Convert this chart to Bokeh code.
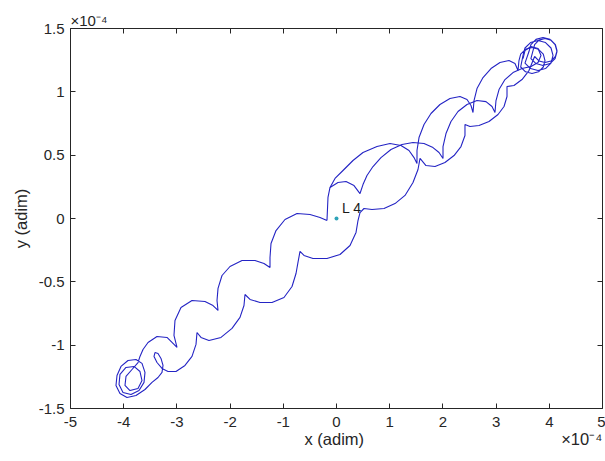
from bokeh.plotting import figure
from bokeh.models import LinearAxis, FixedTicker, Label, Range1d
from bokeh.embed import file_html
from bokeh.resources import INLINE

# values in units of 1e-4 (as read on the axes)
x_ticks = [-5, -4, -3, -2, -1, 0, 1, 2, 3, 4, 5]
x_tick_labels = ["-5", "-4", "-3", "-2", "-1", "0", "1", "2", "3", "4", "5"]
y_ticks = [-1.5, -1, -0.5, 0, 0.5, 1, 1.5]
y_tick_labels = ["-1.5", "-1", "-0.5", "0", "0.5", "1", "1.5"]

# upper half, first outgoing strand (from the cusp next to L4, along the upper-left side)
e_x = [-0.179, -0.169, -0.160, -0.122, -0.028, 0.122, 0.310, 0.498, 0.761, 1.006, 1.212, 1.363, 1.457, 1.513,
       1.513, 1.551, 1.645, 1.776, 1.945, 2.133, 2.321, 2.453, 2.528, 2.566,
       2.585, 2.641, 2.754, 2.904, 3.073, 3.242, 3.355, 3.412]
e_y = [-0.016, 0.079, 0.166, 0.245, 0.316, 0.379, 0.458, 0.521, 0.568, 0.592, 0.576, 0.537, 0.481, 0.434,
       0.537, 0.639, 0.742, 0.829, 0.900, 0.947, 0.963, 0.939, 0.892, 0.837,
       0.931, 1.026, 1.113, 1.184, 1.231, 1.247, 1.223, 1.168]

# loops at the upper-right end
ur_x = [3.430, 3.462, 3.553, 3.675, 3.797, 3.887, 3.919, 3.887, 3.797, 3.675, 3.553, 3.462,
        3.506, 3.543, 3.647, 3.788, 3.929, 4.032, 4.070, 4.032, 3.929, 3.788, 3.647, 3.543,
        3.618, 3.654, 3.750, 3.882, 4.013, 4.109, 4.145, 4.109, 4.013, 3.882, 3.750, 3.654,
        3.694, 3.724, 3.806, 3.919, 4.032, 4.115, 4.145, 4.115, 4.032, 3.919, 3.806, 3.724]
ur_y = [1.247, 1.298, 1.336, 1.350, 1.336, 1.298, 1.247, 1.196, 1.158, 1.144, 1.158, 1.196,
        1.287, 1.346, 1.389, 1.405, 1.389, 1.346, 1.287, 1.227, 1.184, 1.168, 1.184, 1.227,
        1.318, 1.373, 1.414, 1.429, 1.414, 1.373, 1.318, 1.263, 1.223, 1.208, 1.223, 1.263,
        1.326, 1.373, 1.408, 1.421, 1.408, 1.373, 1.326, 1.279, 1.244, 1.231, 1.244, 1.279]

# upper half, returning strand along the lower-right side, down past L4
r_up_x = [3.618, 3.487, 3.336, 3.205,
          3.205, 3.149, 3.036, 2.867, 2.679, 2.509, 2.415,
          2.415, 2.340, 2.209, 2.039, 1.852, 1.682, 1.570,
          1.532, 1.438, 1.288, 1.100, 0.893, 0.667, 0.517, 0.442,
          0.404, 0.367, 0.254, 0.066, -0.179, -0.442, -0.611, -0.686]
r_up_y = [1.168, 1.097, 1.050, 1.042,
          0.963, 0.884, 0.821, 0.766, 0.734, 0.726, 0.742,
          0.655, 0.568, 0.497, 0.442, 0.410, 0.418, 0.474,
          0.387, 0.284, 0.182, 0.118, 0.079, 0.071, 0.079, 0.047,
          -0.016, -0.110, -0.213, -0.284, -0.316, -0.316, -0.292, -0.260]

# lower half, lower-right strand
r_low_x = [-0.724, -0.761, -0.836, -0.987, -1.212, -1.438, -1.626, -1.720,
           -1.739, -1.814, -1.964, -2.171, -2.397, -2.547, -2.622]
r_low_y = [-0.347, -0.434, -0.537, -0.624, -0.663, -0.663, -0.639, -0.600,
           -0.687, -0.781, -0.868, -0.939, -0.963, -0.939, -0.900]

# loops at the lower-left end
ll_x = [-2.641, -2.716, -2.848, -3.017, -3.167, -3.280, -3.374, -3.430, -3.412, -3.355, -3.299, -3.261, -3.280, -3.355, -3.468,
        -3.600, -3.769, -3.938, -4.070, -4.145, -4.126, -4.051, -3.919, -3.769, -3.656, -3.600,
        -3.618, -3.712, -3.863, -4.013, -4.088, -4.070, -3.957, -3.806,
        -3.694, -3.656, -3.731, -3.882, -3.976, -3.957, -3.844, -3.731,
        -3.694, -3.637, -3.543, -3.374, -3.186, -2.998]
ll_y = [-0.994, -1.089, -1.160, -1.208, -1.208, -1.184, -1.137, -1.089, -1.058, -1.066, -1.105, -1.160, -1.215, -1.255, -1.294,
        -1.350, -1.397, -1.413, -1.381, -1.318, -1.239, -1.168, -1.121, -1.113, -1.144, -1.215,
        -1.294, -1.358, -1.389, -1.373, -1.310, -1.231, -1.176, -1.168,
        -1.208, -1.279, -1.342, -1.358, -1.318, -1.247, -1.192, -1.137,
        -1.089, -1.034, -0.979, -0.931, -0.939, -1.018]

# lower half, upper-left strand, back to the cusp next to L4
l_low_x = [-3.055, -3.036, -2.923, -2.716, -2.472, -2.321, -2.227,
           -2.246, -2.227, -2.152, -2.002, -1.776, -1.532, -1.363, -1.250,
           -1.250, -1.231, -1.137, -0.968, -0.742, -0.498, -0.310, -0.179]
l_low_y = [-0.923, -0.805, -0.702, -0.647, -0.655, -0.687, -0.726,
           -0.647, -0.552, -0.450, -0.379, -0.331, -0.331, -0.355, -0.387,
           -0.308, -0.197, -0.095, -0.008, 0.039, 0.032, 0.008, -0.016]

# upper half, second outgoing strand (starts just above L4, braided with the first)
f_x = [-0.122, 0.028, 0.179, 0.329, 0.442,
       0.498, 0.573, 0.686, 0.836, 1.024, 1.231, 1.438, 1.645, 1.814, 1.927, 2.002,
       2.002, 2.058, 2.152, 2.284, 2.453, 2.641, 2.810, 2.923, 2.979,
       2.998, 3.055, 3.167, 3.318, 3.487, 3.656, 3.788, 3.844, 3.788, 3.656, 3.543, 3.506]
f_y = [0.245, 0.284, 0.292, 0.260, 0.197,
       0.268, 0.339, 0.410, 0.481, 0.545, 0.584, 0.600, 0.592, 0.560, 0.521, 0.474,
       0.568, 0.671, 0.766, 0.845, 0.900, 0.931, 0.923, 0.884, 0.837,
       0.931, 1.018, 1.097, 1.152, 1.184, 1.200, 1.231, 1.287, 1.342, 1.358, 1.326, 1.263]

l4_x = [0.0]
l4_y = [0.0]

path_x = e_x + ur_x + r_up_x + r_low_x + ll_x + l_low_x
path_y = e_y + ur_y + r_up_y + r_low_y + ll_y + l_low_y

FONT = "Liberation Sans"
AX = "#262626"
NB = "\u00a0"

p = figure(width=605, height=461, x_range=Range1d(-5, 5), y_range=Range1d(-1.5, 1.5),
           output_backend="svg", toolbar_location=None,
           min_border_left=70, min_border_right=3, min_border_top=28, min_border_bottom=53)
p.outline_line_color = None
p.xgrid.visible = False
p.ygrid.visible = False
p.background_fill_color = "white"
p.border_fill_color = "white"

def style_axis(ax, ticks, labels, show):
    ax.ticker = FixedTicker(ticks=ticks)
    ax.major_label_overrides = {t: (l if show else "") for t, l in zip(ticks, labels)}
    ax.axis_line_color = AX
    ax.axis_line_width = 1
    ax.major_tick_line_color = AX
    ax.major_tick_in = 5
    ax.major_tick_out = 0
    ax.minor_tick_in = 0
    ax.minor_tick_out = 0
    ax.major_label_text_font = FONT
    ax.major_label_text_color = AX
    ax.major_label_text_font_size = "15px" if show else "1px"
    if not show:
        ax.major_label_standoff = 0

style_axis(p.xaxis[0], x_ticks, x_tick_labels, True)
style_axis(p.yaxis[0], y_ticks, y_tick_labels, True)
p.xaxis.major_label_standoff = 8
p.yaxis.major_label_standoff = 6
# x label centred under the axis, with the x10^-4 factor at the right end of the same row
p.xaxis.axis_label = NB * 51 + "x (adim)" + NB * 43 + "\u00d710\u207b\u2074"
p.yaxis.axis_label = "y (adim)"
for ax in (p.xaxis[0], p.yaxis[0]):
    ax.axis_label_text_font = FONT
    ax.axis_label_text_font_style = "normal"
    ax.axis_label_text_font_size = "16.5px"
    ax.axis_label_text_color = AX
p.xaxis.axis_label_standoff = 0
p.yaxis.axis_label_standoff = 6

top = LinearAxis()
style_axis(top, x_ticks, x_tick_labels, False)
p.add_layout(top, "above")
right = LinearAxis()
style_axis(right, y_ticks, y_tick_labels, False)
p.add_layout(right, "right")

# x10^-4 factor of the y axis, top-left
p.title.text = "\u00d710\u207b\u2074"
p.title.align = "left"
p.title.text_font = FONT
p.title.text_font_style = "normal"
p.title.text_font_size = "15px"
p.title.text_color = AX
p.title.standoff = 0
p.title.offset = 0

p.multi_line([path_x, f_x], [path_y, f_y], line_color="#2424c4", line_width=1.1)
p.scatter(l4_x, l4_y, size=4, color="#2fa3b8", line_color=None)

p.add_layout(Label(x=0.103, y=0.079, text="L 4", text_font=FONT, text_font_size="14px",
                   text_color="#1a1a1a", text_baseline="alphabetic"))

open("out.html", "w").write(file_html(p, INLINE))
